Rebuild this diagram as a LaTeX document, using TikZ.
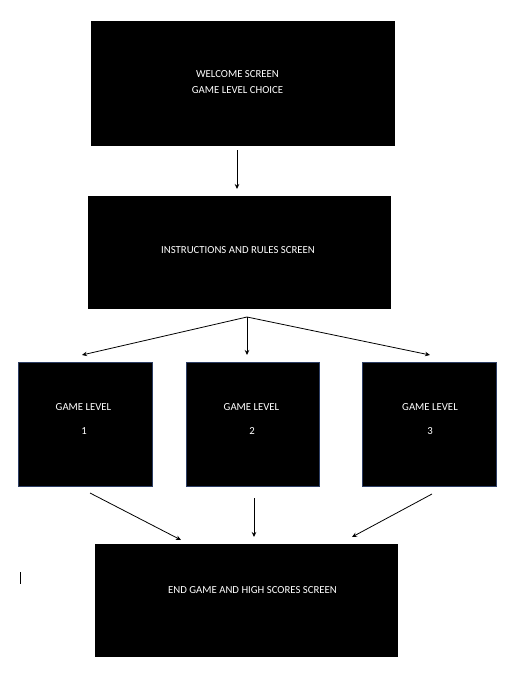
\documentclass[tikz,border=0pt]{standalone}
\usepackage{fontspec}
\setmainfont{Carlito}
\usetikzlibrary{arrows.meta}
\definecolor{lvlborder}{RGB}{45,62,100}
\begin{document}
\begin{tikzpicture}[x=1bp,y=-1bp,
  screen/.style={fill=black,inner sep=0pt},
  lvl/.style={screen,draw=lvlborder,line width=0.5pt},
  lbl/.style={text=white,inner sep=0pt,font=\fontsize{10.8}{16}\selectfont,align=center},
  conn/.style={line width=0.8pt,-{Stealth[length=5pt,width=4.5pt]}}]
\useasboundingbox[fill=white] (0,0) rectangle (528,683);
\node[screen,minimum width=304bp,minimum height=125bp] (welcome) at (243,83.5) {};
\node[screen,minimum width=303bp,minimum height=113bp] (instr) at (239.5,252.5) {};
\node[lvl,minimum width=134bp,minimum height=124bp] (l1) at (85,424) {};
\node[lvl,minimum width=133bp,minimum height=124bp] (l2) at (252.5,424) {};
\node[lvl,minimum width=134bp,minimum height=124bp] (l3) at (429,424) {};
\node[screen,minimum width=303bp,minimum height=113bp] (endg) at (246.5,600.5) {};
\node[lbl] (wt1) at (237.5,74.5) {WELCOME SCREEN};
\node[lbl] (wt2) at (237.5,90.5) {GAME LEVEL CHOICE};
\node[lbl] (it) at (238,250.5) {INSTRUCTIONS AND RULES SCREEN};
\node[lbl] (t1) at (83.5,407.5) {GAME LEVEL};
\node[lbl] (n1) at (84,431.5) {1};
\node[lbl] (t2) at (251.5,407.5) {GAME LEVEL};
\node[lbl] (n2) at (252,431.5) {2};
\node[lbl] (t3) at (430,407.5) {GAME LEVEL};
\node[lbl] (n3) at (430,431.5) {3};
\node[lbl] (endt) at (252.5,590.5) {END GAME AND HIGH SCORES SCREEN};
% connector ends
\coordinate (a0) at (237,150);
\coordinate (a1) at (237,189);
\coordinate (br) at (247,317);
\coordinate (b1) at (82,355);
\coordinate (b2) at (247,355);
\coordinate (b3) at (430,355);
\coordinate (c1s) at (90,493);
\coordinate (c1e) at (181,540);
\coordinate (c2s) at (254,498);
\coordinate (c2e) at (254,537);
\coordinate (c3s) at (432,494);
\coordinate (c3e) at (352,537);
\draw[conn] (a0) -- (a1);
\draw[conn] (br) -- (b1);
\draw[conn] (br) -- (b2);
\draw[conn] (br) -- (b3);
\draw[conn] (c1s) -- (c1e);
\draw[conn] (c2s) -- (c2e);
\draw[conn] (c3s) -- (c3e);
% text cursor
\coordinate (k0) at (20,572);
\coordinate (k1) at (20,584);
\draw[line width=0.8pt] (k0) -- (k1);
\end{tikzpicture}
\end{document}
